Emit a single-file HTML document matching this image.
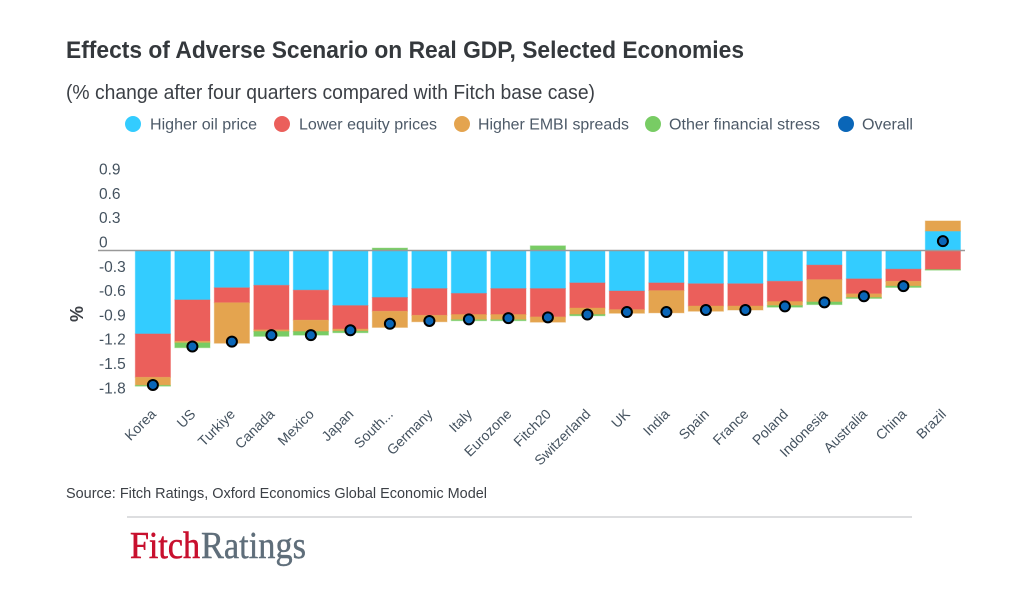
<!DOCTYPE html>
<html lang="en">
<head>
<meta charset="utf-8">
<title>Effects of Adverse Scenario on Real GDP, Selected Economies</title>
<style>
html,body{margin:0;padding:0;background:#fff;width:1031px;height:612px;overflow:hidden}
svg{display:block;font-family:"Liberation Sans",sans-serif}
</style>
</head>
<body>
<svg id="chart" xmlns="http://www.w3.org/2000/svg" width="1031" height="612" viewBox="0 0 1031 612">
  <rect x="0" y="0" width="1031" height="612" fill="#ffffff"/>
  <text x="66" y="58" font-size="24" font-weight="700" fill="#34383c" textLength="678" lengthAdjust="spacingAndGlyphs">Effects of Adverse Scenario on Real GDP, Selected Economies</text>
  <text x="66" y="99" font-size="20" fill="#3c4046" textLength="529" lengthAdjust="spacingAndGlyphs">(% change after four quarters compared with Fitch base case)</text>

  <g font-size="15.5" fill="#4d5a68">
    <g>
      <circle cx="133" cy="124" r="8" fill="#33ccff"/>
      <text x="150" y="129.500" textLength="107" lengthAdjust="spacingAndGlyphs">Higher oil price</text>
    </g>
    <g>
      <circle cx="282" cy="124" r="8" fill="#eb5f5b"/>
      <text x="299" y="129.500" textLength="138" lengthAdjust="spacingAndGlyphs">Lower equity prices</text>
    </g>
    <g>
      <circle cx="462" cy="124" r="8" fill="#e4a44f"/>
      <text x="478" y="129.500" textLength="151" lengthAdjust="spacingAndGlyphs">Higher EMBI spreads</text>
    </g>
    <g>
      <circle cx="653" cy="124" r="8" fill="#78cc64"/>
      <text x="669" y="129.500" textLength="151" lengthAdjust="spacingAndGlyphs">Other financial stress</text>
    </g>
    <g>
      <circle cx="846" cy="124" r="8" fill="#0a66b8"/>
      <text x="862" y="129.500" textLength="51" lengthAdjust="spacingAndGlyphs">Overall</text>
    </g>
  </g>

  <text transform="translate(83,314) rotate(-90)" text-anchor="middle" font-size="18" font-weight="700" fill="#3c4046">%</text>
  <g id="y-ticks"></g>
  <g id="bars"></g>
  <line x1="98" x2="965" y1="250.500" y2="250.500" stroke="#999999" stroke-width="1.500"/>
  <g id="dots"></g>
  <g id="x-labels"></g>

  <text x="66" y="498" font-size="14.500" fill="#3c4046" textLength="421" lengthAdjust="spacingAndGlyphs">Source: Fitch Ratings, Oxford Economics Global Economic Model</text>
  <line x1="127" x2="912" y1="517" y2="517" stroke="#d2d4d6" stroke-width="1.500"/>
  <g font-family="'Liberation Serif',serif" font-size="38">
    <text x="130" y="558" fill="#c8102e" stroke="#c8102e" stroke-width="0.600" textLength="70" lengthAdjust="spacingAndGlyphs">Fitch</text>
    <text x="201" y="558" fill="#5f6e7a" stroke="#5f6e7a" stroke-width="0.400" textLength="105" lengthAdjust="spacingAndGlyphs">Ratings</text>
  </g>
</svg>
<script>
const categories = ["Korea","US","Turkiye","Canada","Mexico","Japan","South...","Germany","Italy","Eurozone","Fitch20","Switzerland","UK","India","Spain","France","Poland","Indonesia","Australia","China","Brazil"];
const oilValues = [-1.03,-0.61,-0.46,-0.43,-0.49,-0.68,-0.58,-0.47,-0.53,-0.47,-0.47,-0.40,-0.50,-0.40,-0.41,-0.41,-0.38,-0.18,-0.35,-0.23,0.24];
const equityValues = [-0.535,-0.51,-0.185,-0.55,-0.37,-0.29,-0.17,-0.33,-0.26,-0.32,-0.35,-0.31,-0.23,-0.095,-0.275,-0.275,-0.25,-0.18,-0.185,-0.15,-0.235];
const embiValues = [-0.10,-0.02,-0.50,-0.02,-0.14,-0.025,-0.20,-0.08,-0.065,-0.065,-0.065,-0.08,-0.045,-0.275,-0.065,-0.05,-0.05,-0.275,-0.045,-0.06,0.125];
const otherValues = [-0.01,-0.06,0,-0.06,-0.045,-0.02,0.03,0,-0.012,-0.012,0.058,-0.016,0,0,0,0,-0.02,-0.033,-0.012,-0.016,-0.008];
const overallValues = [-1.66,-1.185,-1.125,-1.045,-1.045,-0.985,-0.905,-0.87,-0.85,-0.835,-0.825,-0.79,-0.76,-0.76,-0.735,-0.735,-0.69,-0.64,-0.565,-0.44,0.115];
const yTickValues = [0.9,0.6,0.3,0,-0.3,-0.6,-0.9,-1.2,-1.5,-1.8];
const seriesNames = ["oil","equity","embi","other"];
const seriesColors = ["#33ccff","#eb5f5b","#e4a44f","#78cc64"];
const seriesValues = [oilValues,equityValues,embiValues,otherValues];

const NS = "http://www.w3.org/2000/svg";
const yScale = v => 250.5 - v * 81;
const xCenter = i => 152.9 + i * 39.5;
const barWidth = 35.2;

const yGroup = document.getElementById("y-ticks");
yTickValues.forEach(v => {
  const t = document.createElementNS(NS, "text");
  
  
  t.setAttribute("x", 99);
  t.setAttribute("y", yScale(v) - 3);
  t.setAttribute("font-size", "15.5");
  t.setAttribute("fill", "#44525f");
  t.textContent = String(v);
  yGroup.appendChild(t);
});

const barGroup = document.getElementById("bars");
categories.forEach((cat, i) => {
  let pos = 0, neg = 0;
  seriesValues.forEach((vals, s) => {
    const v = vals[i];
    if (!v) return;
    const start = v > 0 ? pos : neg;
    const end = start + v;
    if (v > 0) pos = end; else neg = end;
    const y1 = yScale(Math.max(start, end));
    const y2 = yScale(Math.min(start, end));
    const r = document.createElementNS(NS, "rect");
    
    
    r.setAttribute("data-series", seriesNames[s]);
    r.setAttribute("x", xCenter(i) - barWidth / 2);
    r.setAttribute("width", barWidth);
    r.setAttribute("y", y1);
    r.setAttribute("height", y2 - y1);
    r.setAttribute("fill", seriesColors[s]);
    r.setAttribute("stroke", seriesColors[s]);
    r.setAttribute("stroke-opacity", "0.4");
    r.setAttribute("stroke-width", "1");
    barGroup.appendChild(r);
  });
});

const dotGroup = document.getElementById("dots");
overallValues.forEach((v, i) => {
  const c = document.createElementNS(NS, "circle");
  
  
  c.setAttribute("cx", xCenter(i));
  c.setAttribute("cy", yScale(v));
  c.setAttribute("r", "5");
  c.setAttribute("fill", "#0a66b8");
  c.setAttribute("stroke", "#000000");
  c.setAttribute("stroke-width", "2");
  dotGroup.appendChild(c);
});

const xGroup = document.getElementById("x-labels");
categories.forEach((cat, i) => {
  const t = document.createElementNS(NS, "text");
  
  
  t.setAttribute("text-anchor", "end");
  t.setAttribute("font-size", "14");
  t.setAttribute("fill", "#44525f");
  t.setAttribute("transform", "translate(" + (xCenter(i) + 4) + ",415) rotate(-45)");
  t.textContent = cat;
  xGroup.appendChild(t);
});
</script>
</body>
</html>
